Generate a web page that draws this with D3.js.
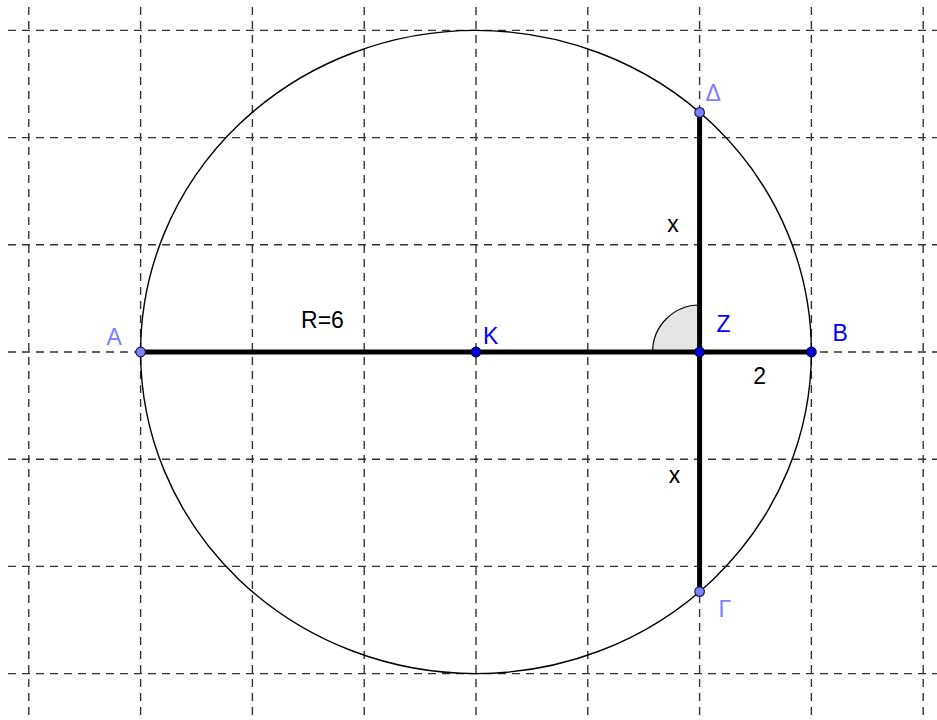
<!DOCTYPE html>
<html>
<head>
<meta charset="utf-8">
<script src="https://cdn.jsdelivr.net/npm/d3@7"></script>
<style>
    body { margin: 0; background: #fff; }
    svg { display: block; }
    .grid line { stroke: #333; stroke-width: 1.4; stroke-dasharray: 8,6; }
    .label { font-family: "Liberation Sans", Arial, sans-serif; font-size: 23px; }
</style>
</head>
<body>
<svg id="chart"></svg>
<script>
// grid every 2 units
const gridX = [-8, -6, -4, -2, 0, 2, 4, 6, 8];
const gridY = [-6, -4, -2, 0, 2, 4, 6];

// circle with centre K, radius 6
const circleCenter = [0, 0];
const circleR = 6;

// named points
const pointNames = ["A", "K", "Z", "B", "Δ", "Γ"];
const pointX = [-6, 0, 4, 6, 4, 4];
const pointY = [0, 0, 0, 0, 4.47, -4.47];

// segments drawn thick, by point name
const segStart = ["A", "Γ"];
const segEnd = ["B", "Δ"];

// free text on the figure
const noteText = ["R=6", "x", "x", "2"];
const noteX = [-3.13, 3.42, 3.45, 4.96];
const noteY = [0.45, 2.24, -2.44, -0.6];

const width = 937, height = 720;
const padLeft = 8, padTop = 7;

// x: 55.9 px per unit, y: 53.6 px per unit, K sits at (476, 352)
const x = d3.scaleLinear().domain([-8.372, 8.247]).range([padLeft, width]);
const y = d3.scaleLinear().domain([6.437, -6.866]).range([padTop, height]);

const svg = d3.select("#chart")
    .attr("width", width)
    .attr("height", height);

var grid = svg.append("g").attr("class", "grid");

grid.selectAll(".gx")
    .data(gridX)
    .enter().append("line")
    .attr("class", "gx")
    .attr("x1", (d) => x(d)).attr("x2", (d) => x(d))
    .attr("y1", padTop).attr("y2", height);

grid.selectAll(".gy")
    .data(gridY)
    .enter().append("line")
    .attr("class", "gy")
    .attr("y1", (d) => y(d)).attr("y2", (d) => y(d))
    .attr("x1", padLeft).attr("x2", width);

// the circle (axes are scaled unequally, so it is an ellipse on screen)
svg.append("ellipse")
    .attr("cx", x(circleCenter[0]))
    .attr("cy", y(circleCenter[1]))
    .attr("rx", x(circleR) - x(0))
    .attr("ry", y(0) - y(circleR))
    .attr("fill", "none")
    .attr("stroke", "#000")
    .attr("stroke-width", 1.4);

const pts = pointNames.map((n, i) => ({ name: n, x: pointX[i], y: pointY[i] }));
const byName = {};
pts.forEach((p) => byName[p.name] = p);

// right angle marker at Z
const Z = byName["Z"];
svg.append("path")
    .attr("transform", "translate(" + x(Z.x) + "," + y(Z.y) + ")")
    .attr("d", d3.arc()({ innerRadius: 0, outerRadius: 47, startAngle: -Math.PI / 2, endAngle: 0 }))
    .attr("fill", "#e5e5e5")
    .attr("stroke", "#000")
    .attr("stroke-width", 1.2);

const segs = segStart.map((s, i) => [byName[s], byName[segEnd[i]]]);

svg.selectAll(".seg")
    .data(segs)
    .enter().append("line")
    .attr("class", "seg")
    .attr("x1", (d) => x(d[0].x)).attr("y1", (d) => y(d[0].y))
    .attr("x2", (d) => x(d[1].x)).attr("y2", (d) => y(d[1].y))
    .attr("stroke", "#000")
    .attr("stroke-width", 5);

// free points are light, constructed ones dark blue
const isFree = { "A": true, "Δ": true, "Γ": true };
const labelOffset = {
    "A": [-34, -7], "K": [7, -8], "Z": [17, -20],
    "B": [21, -11], "Δ": [6, -11], "Γ": [19, 25]
};

svg.selectAll(".pt")
    .data(pts)
    .enter().append("circle")
    .attr("class", "pt")
    .attr("cx", (d) => x(d.x))
    .attr("cy", (d) => y(d.y))
    .attr("r", 4.8)
    .attr("fill", (d) => isFree[d.name] ? "#7f7fff" : "#0000e0")
    .attr("stroke", (d) => isFree[d.name] ? "#1a1a4d" : "#00004d")
    .attr("stroke-width", 1.2);

svg.selectAll(".ptlabel")
    .data(pts)
    .enter().append("text")
    .attr("class", "label ptlabel")
    .attr("x", (d) => x(d.x) + labelOffset[d.name][0])
    .attr("y", (d) => y(d.y) + labelOffset[d.name][1])
    .attr("fill", (d) => isFree[d.name] ? "#7f7fff" : "#0000ff")
    .text((d) => d.name);

svg.selectAll(".note")
    .data(noteText)
    .enter().append("text")
    .attr("class", "label note")
    .attr("x", (d, i) => x(noteX[i]))
    .attr("y", (d, i) => y(noteY[i]))
    .attr("fill", "#000")
    .text((d) => d);
</script>
</body>
</html>
